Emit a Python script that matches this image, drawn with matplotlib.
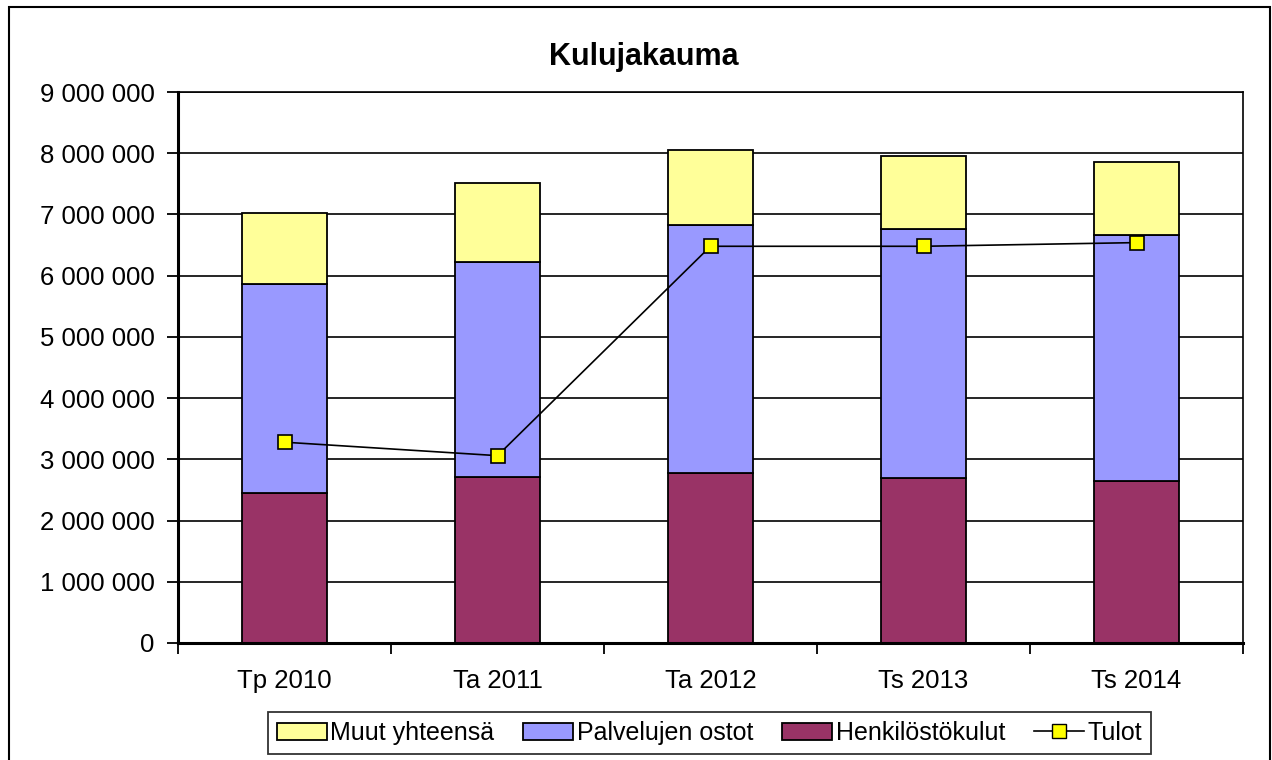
import matplotlib
matplotlib.use("Agg")
import matplotlib.pyplot as plt
import numpy as np
from matplotlib.patches import Rectangle, Patch
from matplotlib.lines import Line2D
from matplotlib.ticker import FuncFormatter, FixedLocator

plt.rcParams['font.family'] = ['Liberation Sans', 'DejaVu Sans']

categories = ["Tp 2010", "Ta 2011", "Ta 2012", "Ts 2013", "Ts 2014"]
henkilostokulut = [2450000, 2710000, 2770000, 2700000, 2650000]
palvelujen_ostot = [3420000, 3520000, 4050000, 4060000, 4010000]
muut_yhteensa = [1150000, 1280000, 1240000, 1200000, 1200000]
tulot = [3280000, 3060000, 6480000, 6480000, 6540000]

title = "Kulujakauma"
series_names = ["Muut yhteensä", "Palvelujen ostot", "Henkilöstökulut", "Tulot"]
c_muut = "#FFFF99"
c_palv = "#9999FF"
c_henk = "#993366"
c_tulot = "#FFFF00"

fig = plt.figure(figsize=(12.72, 7.6), dpi=100)
ax = fig.add_axes([178/1272, 1-643/760, (1243-178)/1272, (643-92)/760])

x = np.arange(len(categories))
w = 0.40
h = np.array(henkilostokulut)
p = np.array(palvelujen_ostot)
m = np.array(muut_yhteensa)
ax.bar(x, h, w, color=c_henk, edgecolor="black", linewidth=1.3, zorder=2)
ax.bar(x, p, w, bottom=h, color=c_palv, edgecolor="black", linewidth=1.3, zorder=2)
ax.bar(x, m, w, bottom=h + p, color=c_muut, edgecolor="black", linewidth=1.3, zorder=2)
ax.plot(x, tulot, color="black", linewidth=1.2, marker="s", markersize=10,
        markerfacecolor=c_tulot, markeredgecolor="black", markeredgewidth=1.2, zorder=3)

ax.set_xlim(-0.5, len(categories) - 0.5)
ax.set_ylim(0, 9000000)
ax.yaxis.set_major_locator(FixedLocator(np.arange(0, 9000001, 1000000)))
ax.yaxis.set_major_formatter(FuncFormatter(lambda v, pos: f"{int(v):,}".replace(",", " ")))
ax.grid(axis="y", color="black", linewidth=1.2)
ax.set_axisbelow(True)

ax.set_xticks(x)
ax.set_xticklabels(categories)
ax.set_xticks(np.arange(-0.5, len(categories), 1.0), minor=True)
ax.tick_params(axis="x", which="major", length=0, labelsize=18.5, pad=19)
ax.tick_params(axis="x", which="minor", length=8, width=1.3, direction="out")
ax.tick_params(axis="y", length=8, width=1.3, direction="out", labelsize=18.5, pad=9)

for s in ["left", "bottom"]:
    ax.spines[s].set_linewidth(2.2)
ax.spines["right"].set_linewidth(1.2)
ax.spines["top"].set_linewidth(1.2)

fig.text(644/1272, 1-57/760, title, ha="center", va="center",
         fontsize=22, fontweight="bold")

handles = [Patch(facecolor=c_muut, edgecolor="black", linewidth=1.3),
           Patch(facecolor=c_palv, edgecolor="black", linewidth=1.3),
           Patch(facecolor=c_henk, edgecolor="black", linewidth=1.3),
           Line2D([0], [0], color="black", linewidth=1.2, marker="s", markersize=10,
                  markerfacecolor=c_tulot, markeredgecolor="black")]
leg = fig.legend(handles, series_names, loc="center", bbox_to_anchor=((267+1152)/2/1272, 1-733/760),
                 ncol=4, frameon=True, fancybox=False, edgecolor="black", fontsize=18,
                 handlelength=2.0, handletextpad=0.15, columnspacing=1.15, borderpad=0.35)
leg.get_frame().set_linewidth(1.3)

fig.add_artist(Rectangle((9/1272, -0.05), (1270-9)/1272, (1+0.05) - 7/760,
                         transform=fig.transFigure, fill=False, edgecolor="black",
                         linewidth=1.5, clip_on=False))

fig.savefig("out.png", dpi=100)
